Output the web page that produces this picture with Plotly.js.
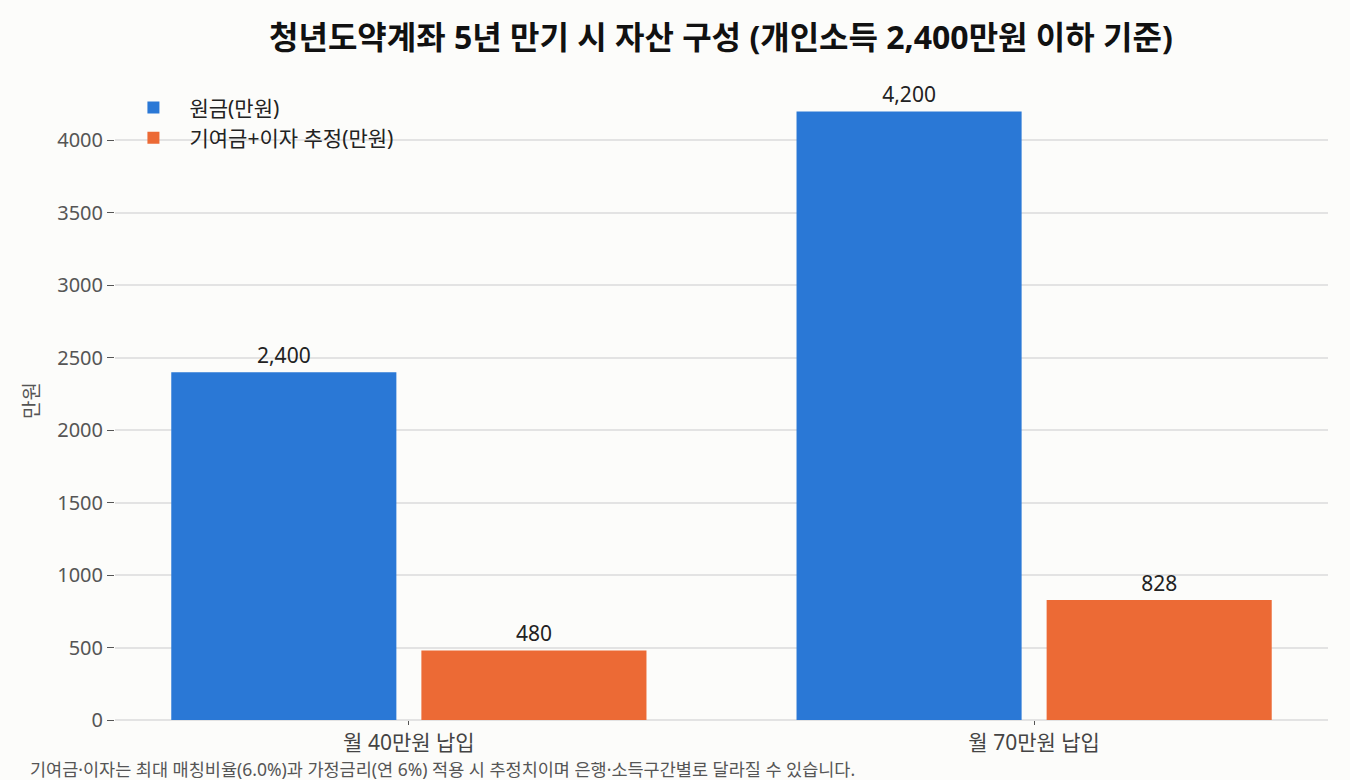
<!DOCTYPE html>
<html>
<head>
<meta charset="utf-8">
<script src="https://cdn.plot.ly/plotly-3.0.1.min.js"></script>
<style>
  html, body { margin: 0; padding: 0; background: #fcfcfa; }
  #chart { width: 1350px; height: 780px; }
</style>
</head>
<body>
<div id="chart"></div>
<script>
// 카테고리와 값
const categories = ['월 40만원 납입', '월 70만원 납입'];
const principal = [2400, 4200];
const bonusInterest = [480, 828];
const seriesNames = ['원금(만원)', '기여금+이자 추정(만원)'];
const footnote = '기여금·이자는 최대 매칭비율(6.0%)과 가정금리(연 6%) 적용 시 추정치이며 은행·소득구간별로 달라질 수 있습니다.';

const font = '"Noto Sans", "Noto Sans CJK KR", sans-serif';
const fmt = v => v.toLocaleString('en-US');

const traces = [
  {
    type: 'bar',
    name: seriesNames[0],
    x: categories,
    y: principal,
    marker: { color: '#2a78d6' },
    text: principal.map(fmt),
    textposition: 'outside',
    textfont: { size: 21, color: '#222', family: font },
    cliponaxis: false,
    hoverinfo: 'y'
  },
  {
    type: 'bar',
    name: seriesNames[1],
    x: categories,
    y: bonusInterest,
    marker: { color: '#ec6a35' },
    text: bonusInterest.map(fmt),
    textposition: 'outside',
    textfont: { size: 21, color: '#222', family: font },
    cliponaxis: false,
    hoverinfo: 'y'
  }
];

const layout = {
  width: 1350,
  height: 780,
  paper_bgcolor: '#fcfcfa',
  plot_bgcolor: '#fcfcfa',
  font: { family: font, color: '#555' },
  margin: { l: 115, r: 22, t: 81, b: 60 },
  barmode: 'group',
  bargap: 0.2,
  bargroupgap: 0.1,
  title: {
    text: '<b>청년도약계좌 5년 만기 시 자산 구성 (개인소득 2,400만원 이하 기준)</b>',
    font: { size: 32, color: '#111', family: font },
    x: 0.534,
    xanchor: 'center',
    y: 0.952,
    yanchor: 'middle'
  },
  showlegend: true,
  legend: {
    x: 0.002,
    y: 0.99,
    xanchor: 'left',
    yanchor: 'top',
    bgcolor: 'rgba(0,0,0,0)',
    itemwidth: 62,
    font: { size: 21, color: '#222', family: font },
    tracegroupgap: 2
  },
  xaxis: {
    type: 'category',
    range: [-0.47, 1.47],
    showgrid: false,
    showline: false,
    zeroline: false,
    ticks: 'outside',
    ticklen: 4,
    tickcolor: '#555',
    tickfont: { size: 21, color: '#444', family: font }
  },
  yaxis: {
    range: [0, 4410],
    dtick: 500,
    showgrid: true,
    gridcolor: '#e3e3e3',
    gridwidth: 1.5,
    zeroline: true,
    zerolinecolor: '#e3e3e3',
    zerolinewidth: 1.5,
    showline: false,
    ticks: 'outside',
    ticklen: 7,
    tickcolor: '#555',
    tickfont: { size: 20, color: '#555', family: font },
    title: { text: '만원', font: { size: 20, color: '#555', family: font }, standoff: 12 }
  },
  annotations: [
    {
      text: footnote,
      xref: 'paper',
      yref: 'paper',
      x: -0.072,
      y: -0.076,
      xanchor: 'left',
      yanchor: 'middle',
      showarrow: false,
      font: { size: 17.5, color: '#555', family: font }
    }
  ]
};

Plotly.newPlot('chart', traces, layout, { displayModeBar: false });
</script>
</body>
</html>
